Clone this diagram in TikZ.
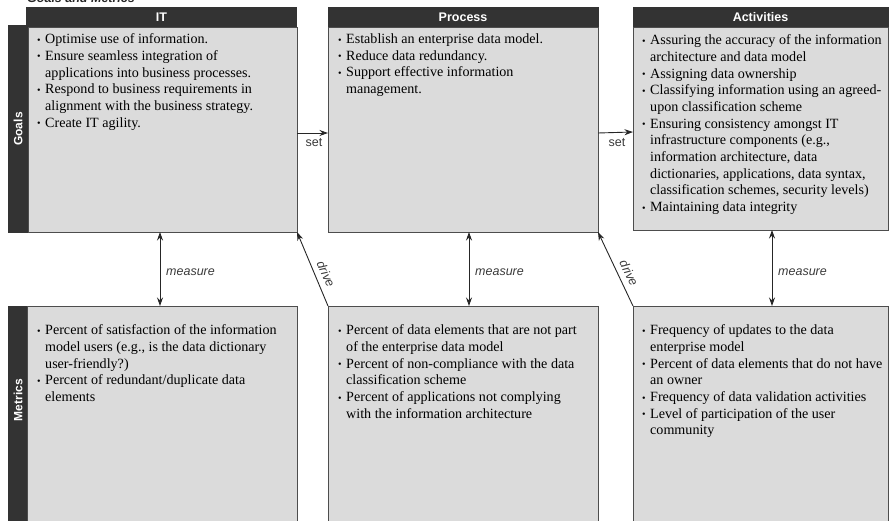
\documentclass[tikz,border=0pt]{standalone}
\usepackage{fontspec}
\setmainfont{Liberation Serif}
\setsansfont{Liberation Sans}
\usetikzlibrary{arrows.meta}

\definecolor{barcol}{HTML}{333333}
\definecolor{panel}{HTML}{DBDBDB}
\definecolor{edgecol}{HTML}{4D4D4D}
\definecolor{lblcol}{HTML}{3A3A3A}

% bullet and hanging indent for the list lines
\newcommand\bul{\makebox[8pt][l]{\raisebox{0.4pt}{\fontsize{10}{10}\selectfont\textbullet}}}
\newcommand\hang{\makebox[8pt][l]{}}

\begin{document}
\begin{tikzpicture}[x=1pt,y=-1pt,
  panelbox/.style={draw=edgecol, line width=0.9pt, fill=panel, inner sep=0, outer sep=0, anchor=north west},
  headbar/.style={fill=barcol, inner sep=0, outer sep=0, anchor=north west, text=white,
                  font=\sffamily\bfseries\fontsize{12.5}{13}\selectfont},
  sidebar/.style={fill=barcol, inner sep=0, outer sep=0, anchor=north west},
  sidelabel/.style={rotate=90, text=white, inner sep=0, font=\sffamily\bfseries\fontsize{12}{12}\selectfont},
  bodytext/.style={anchor=north west, inner sep=0, align=left, text=black,
                   font=\fontsize{14.1}{16.7}\selectfont},
  arr/.style={-{Stealth[length=8.5pt,width=6pt]}, line width=0.9pt, draw=black!85},
  darr/.style={{Stealth[length=8.5pt,width=6pt]}-{Stealth[length=8.5pt,width=6pt]}, line width=0.9pt, draw=black!85},
  lab/.style={inner sep=0, text=lblcol, font=\sffamily\itshape\fontsize{12.5}{13}\selectfont},
  setlab/.style={inner sep=0, text=lblcol, font=\sffamily\fontsize{12.5}{13}\selectfont}]

\useasboundingbox (0,0) rectangle (891,521);

% title, running off the top edge
\node[anchor=base west, inner sep=0, font=\sffamily\bfseries\itshape\fontsize{12.5}{13}\selectfont, text=black!85]
  (title) at (27,3) {Goals and Metrics};

% row labels
\node[sidebar, minimum width=20, minimum height=208] (goalbar) at (8,25) {};
\node[sidelabel] (goallbl) at (goalbar.center) {Goals};
\node[sidebar, minimum width=20, minimum height=230] (metbar) at (8,306) {};
\node[sidelabel] (metlbl) at (18,400) {Metrics};

% goal panels
\node[panelbox, minimum width=269, minimum height=205] (itg) at (28,27) {};
\node[panelbox, minimum width=270, minimum height=205] (prg) at (328,27) {};
\node[panelbox, minimum width=255, minimum height=203] (acg) at (633,27) {};

% column headers
\node[headbar, minimum width=271, minimum height=20] (ith) at (26,7) {IT};
\node[headbar, minimum width=270.9, minimum height=20] (prh) at (327.6,7) {Process};
\node[headbar, minimum width=255.9, minimum height=20] (ach) at (632.6,7) {Activities};

% metric panels
\node[panelbox, minimum width=270, minimum height=230] (itm) at (27,306) {};
\node[panelbox, minimum width=270, minimum height=230] (prm) at (328,306) {};
\node[panelbox, minimum width=255, minimum height=230] (acm) at (633,306) {};

% goal texts
\node[bodytext] (itgt) at (37,33.5) {%
\bul Optimise use of information.\\
\bul Ensure seamless integration of\\
\hang applications into business processes.\\
\bul Respond to business requirements in\\
\hang alignment with the business strategy.\\
\bul Create IT agility.};

\node[bodytext] (prgt) at (338,33.5) {%
\bul Establish an enterprise data model.\\
\bul Reduce data redundancy.\\
\bul Support effective information\\
\hang management.};

\node[bodytext] (acgt) at (642,34.5) {%
\bul Assuring the accuracy of the information\\
\hang architecture and data model\\
\bul Assigning data ownership\\
\bul Classifying information using an agreed-\\
\hang upon classification scheme\\
\bul Ensuring consistency amongst IT\\
\hang infrastructure components (e.g.,\\
\hang information architecture, data\\
\hang dictionaries, applications, data syntax,\\
\hang classification schemes, security levels)\\
\bul Maintaining data integrity};

% metric texts
\node[bodytext] (itmt) at (37,324.5) {%
\bul Percent of satisfaction of the information\\
\hang model users (e.g., is the data dictionary\\
\hang user-friendly?)\\
\bul Percent of redundant/duplicate data\\
\hang elements};

\node[bodytext] (prmt) at (338,324.5) {%
\bul Percent of data elements that are not part\\
\hang of the enterprise data model\\
\bul Percent of non-compliance with the data\\
\hang classification scheme\\
\bul Percent of applications not complying\\
\hang with the information architecture};

\node[bodytext] (acmt) at (642,324.5) {%
\bul Frequency of updates to the data\\
\hang enterprise model\\
\bul Percent of data elements that do not have\\
\hang an owner\\
\bul Frequency of data validation activities\\
\bul Level of participation of the user\\
\hang community};

% set arrows between goal panels
\draw[arr] ([yshift=-3.5]itg.east) -- ([yshift=-3.5]prg.west);
\node[setlab] (set1) at (314,143) {set};
\draw[arr] ([yshift=-3.5]prg.east) -- ([yshift=-3.5]acg.west);
\node[setlab] (set2) at (617,143) {set};

% measure arrows between goals and metrics
\draw[darr] ([xshift=-2.5]itg.south) -- ([xshift=-2]itm.north);
\node[lab, anchor=west] (m1) at (166,272) {measure};
\draw[darr] ([xshift=6]prg.south) -- ([xshift=6]prm.north);
\node[lab, anchor=west] (m2) at (475,272) {measure};
\draw[darr] ([xshift=11.5]acg.south) -- ([xshift=11.5]acm.north);
\node[lab, anchor=west] (m3) at (778,272) {measure};

% drive arrows from metrics back to the previous goals
\draw[arr] (prm.north west) -- (itg.south east);
\node[lab, rotate=-66] (d1) at (326,274) {drive};
\draw[arr] (acm.north west) -- (prg.south east);
\node[lab, rotate=-64] (d2) at (629,273) {drive};

\end{tikzpicture}
\end{document}
